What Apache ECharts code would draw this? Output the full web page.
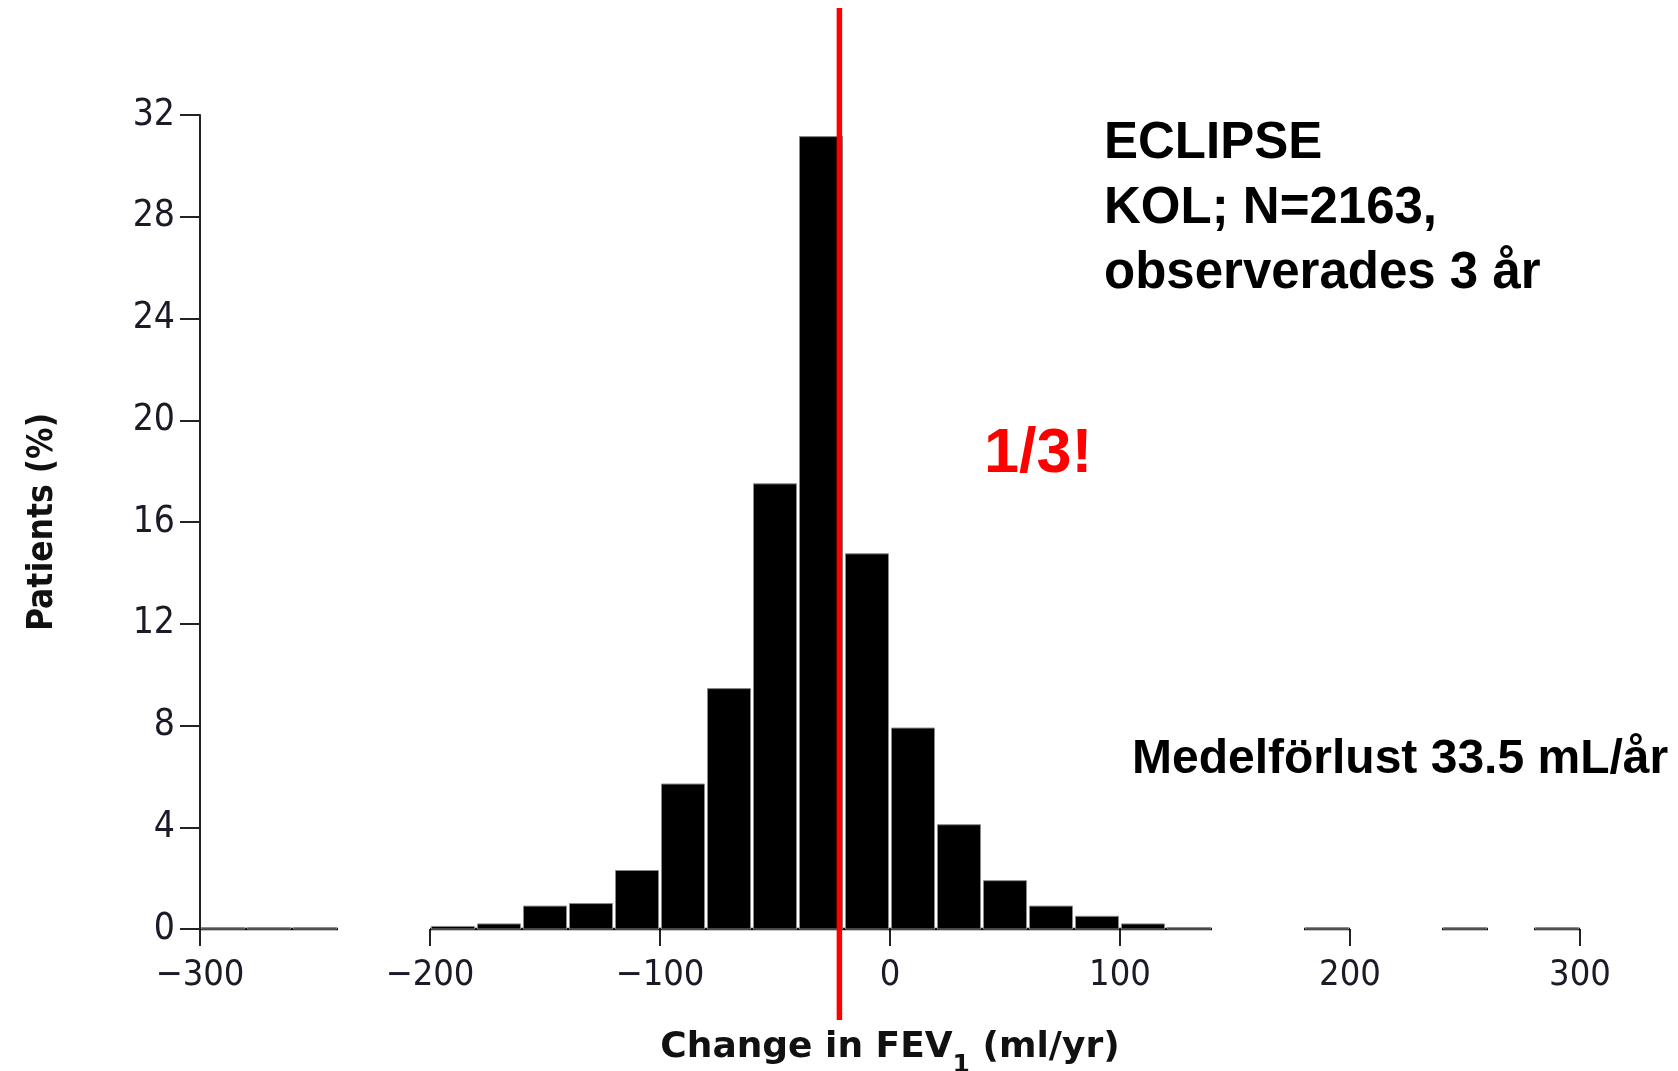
<!DOCTYPE html>
<html>
<head>
<meta charset="utf-8">
<title>ECLIPSE – Change in FEV1</title>
<script src="https://cdn.jsdelivr.net/npm/echarts@6/dist/echarts.min.js"></script>
<style>
  html, body { margin: 0; padding: 0; background: #ffffff; }
  #chart { width: 1678px; height: 1071px; }
</style>
</head>
<body>
<div id="chart"></div>
<script>
// Histogram bins of annual FEV1 change (ml/yr), 20 ml/yr wide
const binWidth = 20;
const binStarts = [-300, -280, -260, -200, -180, -160, -140, -120, -100, -80, -60, -40, -20,
                   0, 20, 40, 60, 80, 100, 120, 180, 240, 280];
// Share of patients in each bin (%)
const patientPct = [0.05, 0.05, 0.05, 0.1, 0.2, 0.9, 1.0, 2.3, 5.7, 9.45, 17.5, 31.15, 14.75,
                    7.9, 4.1, 1.9, 0.9, 0.5, 0.2, 0.06, 0.05, 0.05, 0.05];

// Axis tick labels
const xTickLabels = ['\u2212300', '\u2212200', '\u2212100', '0', '100', '200', '300'];
const yTickLabels = ['0', '4', '8', '12', '16', '20', '24', '28', '32'];

// Vertical reference line position (ml/yr)
const refLineValue = -22;

const binData = binStarts.map((s, i) => [s, s + binWidth, patientPct[i]]);

const chart = echarts.init(document.getElementById('chart'), null, { renderer: 'canvas' });

const condensed = '"DejaVu Sans Condensed", "DejaVu Sans", sans-serif';
const dejavu = '"DejaVu Sans", sans-serif';
const arial = '"Liberation Sans", Arial, sans-serif';

chart.setOption({
  animation: false,
  backgroundColor: '#ffffff',
  grid: { left: 200, right: 98, top: 115, bottom: 142, outerBoundsMode: 'none', containLabel: false },
  xAxis: {
    type: 'value',
    min: -300,
    max: 300,
    interval: 100,
    axisLine: { show: false },
    axisTick: { show: true, length: 17, lineStyle: { color: '#222', width: 2 } },
    splitLine: { show: false },
    axisLabel: {
      margin: 29,
      fontFamily: condensed,
      fontSize: 36,
      color: '#1b1b28',
      formatter: v => xTickLabels[Math.round((v + 300) / 100)]
    },
    name: '{a|Change in FEV}{s|1}{a| (ml/yr)}',
    nameLocation: 'middle',
    nameGap: 89,
    nameTextStyle: {
      rich: {
        a: { fontFamily: dejavu, fontWeight: 'bold', fontSize: 36, lineHeight: 60, color: '#111' },
        s: { fontFamily: dejavu, fontWeight: 'bold', fontSize: 25, lineHeight: 25, verticalAlign: 'bottom', color: '#111' }
      }
    }
  },
  yAxis: {
    type: 'value',
    min: 0,
    max: 32,
    interval: 4,
    axisLine: { show: true, onZero: false, lineStyle: { color: '#222', width: 2 } },
    axisTick: { show: true, length: 20, lineStyle: { color: '#222', width: 2 } },
    splitLine: { show: false },
    axisLabel: {
      margin: 25,
      padding: [6, 0, 0, 0],
      fontFamily: condensed,
      fontSize: 37,
      color: '#1b1b28',
      formatter: v => yTickLabels[Math.round(v / 4)]
    },
    name: 'Patients (%)',
    nameLocation: 'middle',
    nameRotate: 90,
    nameGap: 140,
    nameTextStyle: { fontFamily: condensed, fontWeight: 'bold', fontSize: 35, color: '#111' }
  },
  series: [{
    type: 'custom',
    data: binData,
    encode: { x: [0, 1], y: 2 },
    clip: false,
    renderItem: (params, api) => {
      const x0 = api.value(0), x1 = api.value(1), v = api.value(2);
      const pTop = api.coord([x0, v]);
      const pEnd = api.coord([x1, 0]);
      const left = pTop[0] + 1.5;
      const right = pEnd[0] - 1.5;
      const base = pEnd[1];
      return {
        type: 'group',
        children: [
          {
            type: 'line',
            shape: { x1: pTop[0], y1: base, x2: pEnd[0], y2: base },
            style: { stroke: '#111', lineWidth: 2.5 }
          },
          {
            type: 'rect',
            shape: { x: left, y: pTop[1], width: right - left, height: base - pTop[1] },
            style: { fill: '#000', stroke: '#8a8a8a', lineWidth: 1 }
          }
        ]
      };
    }
  }],
  graphic: [
    {
      id: 'studyText', type: 'text', left: 1104, top: 111,
      style: {
        text: 'ECLIPSE\nKOL; N=2163,\nobserverades 3 år',
        fontFamily: arial, fontWeight: 'bold', fontSize: 51, lineHeight: 65, fill: '#000'
      }
    },
    {
      id: 'thirdText', type: 'text', left: 984, top: 420,
      style: { text: '1/3!', fontFamily: arial, fontWeight: 'bold', fontSize: 63, lineHeight: 70, fill: '#ff0000' }
    },
    {
      id: 'meanText', type: 'text', left: 1132, top: 732,
      style: { text: 'Medelförlust 33.5 mL/år', fontFamily: arial, fontWeight: 'bold', fontSize: 48, lineHeight: 56, fill: '#000' }
    }
  ]
});

// Red reference line, placed through the x scale and running past the plot area
const refX = chart.convertToPixel({ xAxisIndex: 0 }, refLineValue);
chart.setOption({
  graphic: [
    {
      id: 'refLine', type: 'line', z: 100,
      shape: { x1: refX, y1: 8, x2: refX, y2: 1020 },
      style: { stroke: '#ff0000', lineWidth: 5.5 }
    }
  ]
});
</script>
</body>
</html>
